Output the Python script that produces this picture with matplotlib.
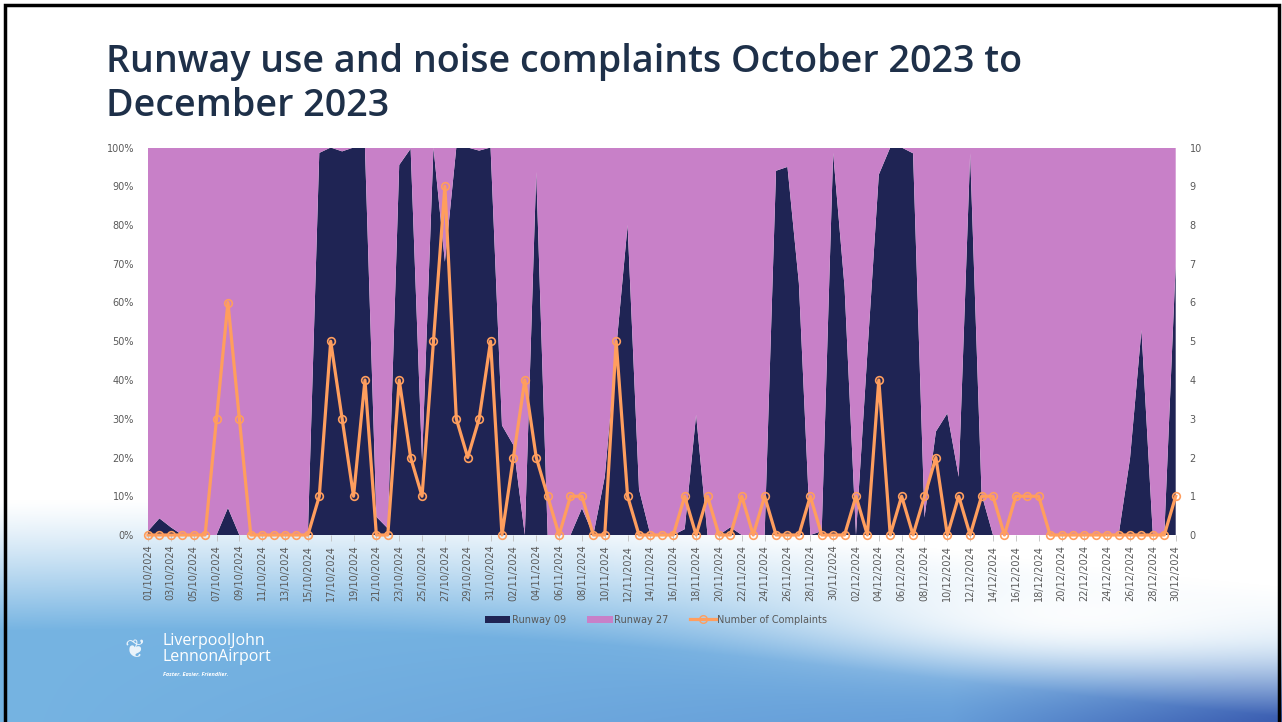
import numpy as np
import pandas as pd
import matplotlib
matplotlib.use("Agg")
import matplotlib.pyplot as plt
from matplotlib.lines import Line2D
from matplotlib.patches import Patch, Rectangle

# ---------------- data ----------------
dates = pd.date_range("2024-10-01", "2024-12-30", freq="D")
date_labels = [d.strftime("%d/%m/%Y") for d in dates]

runway09 = [1, 4.3, 2, 0, 0, 0, 0, 7, 0, 0,
            0, 0, 0, 0, 0, 98.6, 100, 99, 100, 100,
            4.7, 1.7, 95.5, 99.7, 19, 100, 70.5, 100, 100, 99.2,
            100, 28.3, 23.2, 0, 93.7, 0, 0, 0, 6.9, 0,
            15, 48, 80, 11.8, 0, 0, 0, 1.5, 31, 0,
            0, 2, 0, 0, 0, 94, 95, 65, 0, 1,
            98.6, 64, 0, 47, 93, 100, 100, 98.5, 4.5, 26.7,
            31.4, 15, 98.5, 10.5, 0, 0, 0, 0, 0, 0,
            0, 0, 0, 0, 0, 0, 19.8, 52.9, 0, 0,
            70]
runway27 = [100 - v for v in runway09]

complaints = [0, 0, 0, 0, 0, 0, 3, 6, 3, 0,
              0, 0, 0, 0, 0, 1, 5, 3, 1, 4,
              0, 0, 4, 2, 1, 5, 9, 3, 2, 3,
              5, 0, 2, 4, 2, 1, 0, 1, 1, 0,
              0, 5, 1, 0, 0, 0, 0, 1, 0, 1,
              0, 0, 1, 0, 1, 0, 0, 0, 1, 0,
              0, 0, 1, 0, 4, 0, 1, 0, 1, 2,
              0, 1, 0, 1, 1, 0, 1, 1, 1, 0,
              0, 0, 0, 0, 0, 0, 0, 0, 0, 0,
              1]

series_names = ["Runway 09", "Runway 27", "Number of Complaints"]
title_text = "Runway use and noise complaints October 2023 to\nDecember 2023"

# ---------------- style ----------------
W, H = 1282, 722
NAVY = "#1F2454"
PINK = "#C880C8"
ORANGE = "#FF9E5E"
GRAY = "#595959"
TITLE_C = "#1E3049"

fig = plt.figure(figsize=(W / 100, H / 100), dpi=100)

# background (slide decoration)
bg = fig.add_axes([0, 0, 1, 1], zorder=-10)
yy, xx = np.mgrid[0:H, 0:W].astype(float)
y0 = 500 + 70 * (xx / W) - 20 * np.sin(xx / W * np.pi * 1.3)
alpha = np.clip((yy - y0) / 130.0, 0, 1) ** 1.2
haze = np.exp(-(((xx - 1080) / 260.0) ** 2 + ((yy - 615) / 50.0) ** 2))
alpha = np.clip(alpha * (1 - 0.92 * haze), 0, 1)
light = np.array([118, 180, 226]) / 255.0
mid = np.array([96, 150, 214]) / 255.0
dark = np.array([58, 92, 176]) / 255.0
f1 = np.clip((xx / W) * np.clip((yy - 600) / 120.0, 0, 1), 0, 1)
f2 = np.clip(((xx - 950) / 330.0) * np.clip((yy - 640) / 80.0, 0, 1), 0, 1)
col = light * (1 - f1[..., None]) + mid * f1[..., None]
col = col * (1 - f2[..., None]) + dark * f2[..., None]
img = np.ones((H, W, 3)) * (1 - alpha[..., None]) + col * alpha[..., None]
bg.imshow(img, extent=[0, W, H, 0], aspect="auto", interpolation="bilinear")
bg.set_xlim(0, W)
bg.set_ylim(H, 0)
bg.axis("off")

# slide frame
fig.patches.append(Rectangle((5 / W, -0.01), (1274 / W), (H - 5) / H + 0.01,
                             transform=fig.transFigure, fill=False,
                             edgecolor="black", linewidth=2.5, zorder=5))

# chart
left, right, top, bottom = 148, 1175.7, 147.5, 535
ax = fig.add_axes([left / W, 1 - bottom / H, (right - left) / W, (bottom - top) / H])
x = np.arange(len(runway09))
ax.stackplot(x, runway09, runway27, colors=[NAVY, PINK], linewidth=0)
ax.set_xlim(0, len(x) - 1)
ax.set_ylim(0, 100)
ax.set_yticks(np.arange(0, 101, 10))
ax.set_yticklabels([f"{v}%" for v in range(0, 101, 10)])
ax.set_xticks(x[::2])
ax.set_xticklabels(date_labels[::2], rotation=90)
for s in ax.spines.values():
    s.set_visible(False)
ax.tick_params(axis="y", length=0, pad=10, labelsize=7, labelcolor=GRAY)
ax.tick_params(axis="x", length=4, width=0.6, color="#BFBFBF", pad=3,
               labelsize=7, labelcolor=GRAY)

ax2 = ax.twinx()
ax2.plot(x, complaints, color=ORANGE, linewidth=2.3, marker="o", markersize=5.5,
         markerfacecolor="none", markeredgecolor=ORANGE, markeredgewidth=1.2,
         clip_on=False)
ax2.set_ylim(0, 10)
ax2.set_yticks(range(0, 11))
for s in ax2.spines.values():
    s.set_visible(False)
ax2.tick_params(axis="y", length=0, pad=10, labelsize=7, labelcolor=GRAY)
ax2.set_xlim(0, len(x) - 1)

# legend
handles = [Patch(facecolor=NAVY, edgecolor="none"),
           Patch(facecolor=PINK, edgecolor="none"),
           Line2D([0], [0], color=ORANGE, linewidth=2.3, marker="o", markersize=5.5,
                  markerfacecolor="none", markeredgecolor=ORANGE)]
fig.legend(handles, series_names, loc="center", bbox_to_anchor=(656 / W, 1 - 620 / H),
           ncol=3, frameon=False, fontsize=7, labelcolor=GRAY, handlelength=2.6,
           handleheight=0.8, handletextpad=0.2, columnspacing=2.2)

# title
fig.text(106 / W, 1 - 43 / H, title_text, ha="left", va="top", fontsize=27.1,
         color=TITLE_C, family="Open Sans", fontweight="semibold", linespacing=1.22,
         fontstretch="condensed")

# logo
fig.text(135 / W, 1 - 650 / H, "\u2766", ha="center", va="center", fontsize=18,
         color="white", alpha=0.85, family="DejaVu Sans")
fig.text(162 / W, 1 - 649 / H, "LiverpoolJohn\nLennonAirport", ha="left", va="center",
         fontsize=11.5, color="white", family="Open Sans", linespacing=0.95)
fig.text(163 / W, 1 - 675 / H, "Faster. Easier. Friendlier.", ha="left", va="center",
         fontsize=4, color="white", family="Open Sans", fontweight="bold", style="italic")

fig.savefig("out.png", dpi=100)
